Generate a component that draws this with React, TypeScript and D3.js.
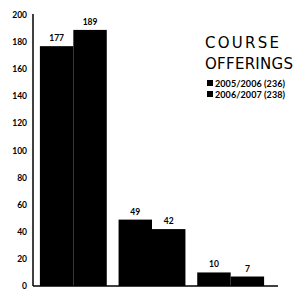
import React, { useEffect, useRef } from 'react';
import * as d3 from 'd3';

const groups = ['A', 'B', 'C'];
const series = ['2005/2006 (236)', '2006/2007 (238)'];
const values2005 = [177, 49, 10];
const values2006 = [189, 42, 7];
const yTicks = [0, 20, 40, 60, 80, 100, 120, 140, 160, 180, 200];
const titleLines = ['COURSE', 'OFFERINGS'];
const titleWidths = [74, 88];

const width = 296;
const height = 294;

const App = () => {
    const ref = useRef<SVGSVGElement>(null);

    useEffect(() => {
        const svg = d3.select(ref.current);
        svg.selectAll('*').remove();

        const yScale = d3.scaleLinear().domain([0, 200]).range([286, 15]);
        const xScale = d3.scaleBand().domain(groups).range([34, 270])
                         .paddingInner(0.15).paddingOuter(0.075);
        const inner = d3.scaleBand().domain(series).range([0, xScale.bandwidth()]);

        const rows = groups.map((g, i) => ({ g, vals: [values2005[i], values2006[i]] }));

        // y axis line + labels
        svg.append('line')
           .attr('x1', 33).attr('x2', 33)
           .attr('y1', yScale(200) - 1).attr('y2', yScale(0))
           .attr('stroke', 'black').attr('stroke-width', 1.5);

        svg.append('g').selectAll('text')
           .data(yTicks)
           .join('text')
           .attr('x', 27)
           .attr('y', d => yScale(d) + 3)
           .attr('text-anchor', 'end')
           .style('font-family', 'Lato')
           .style('font-weight', 'bold')
           .style('font-size', '8.5px')
           .text(d => d);

        // bars
        const gBars = svg.append('g');
        rows.forEach(r => {
            r.vals.forEach((v, j) => {
                const x = (xScale(r.g) as number) + (inner(series[j]) as number);
                gBars.append('rect')
                     .attr('x', x)
                     .attr('y', yScale(v))
                     .attr('width', inner.bandwidth())
                     .attr('height', yScale(0) - yScale(v))
                     .attr('fill', 'black');
                gBars.append('text')
                     .attr('x', x + inner.bandwidth() / 2)
                     .attr('y', yScale(v) - 5)
                     .attr('text-anchor', 'middle')
                     .style('font-family', 'Lato')
                     .style('font-weight', 'bold')
                     .style('font-size', '8.5px')
                     .text(v);
            });
        });

        // baseline
        svg.append('line')
           .attr('x1', 33).attr('x2', 278)
           .attr('y1', yScale(0)).attr('y2', yScale(0))
           .attr('stroke', 'black').attr('stroke-width', 1.5);

        // title
        svg.append('g').selectAll('text')
           .data(titleLines)
           .join('text')
           .attr('x', 205)
           .attr('y', (d, i) => 48 + i * 21)
           .attr('textLength', (d, i) => titleWidths[i])
           .attr('lengthAdjust', 'spacing')
           .style('font-family', 'DejaVu Sans')
           .style('font-size', '15px')
           .text(d => d);

        // legend
        const leg = svg.append('g');
        series.forEach((s, i) => {
            leg.append('rect')
               .attr('x', 207).attr('y', 80 + i * 11)
               .attr('width', 6).attr('height', 6)
               .attr('fill', 'black');
            leg.append('text')
               .attr('x', 215).attr('y', 86.5 + i * 11)
               .attr('textLength', 70)
               .attr('lengthAdjust', 'spacing')
               .style('font-family', 'Lato')
               .style('font-weight', 'bold')
               .style('font-size', '9px')
               .text(s);
        });
    }, []);

    return (
        <svg ref={ref} width={width} height={height}
             style={{ position: 'absolute', left: 0, top: 0, background: 'white' }}></svg>
    );
};

export default App;
